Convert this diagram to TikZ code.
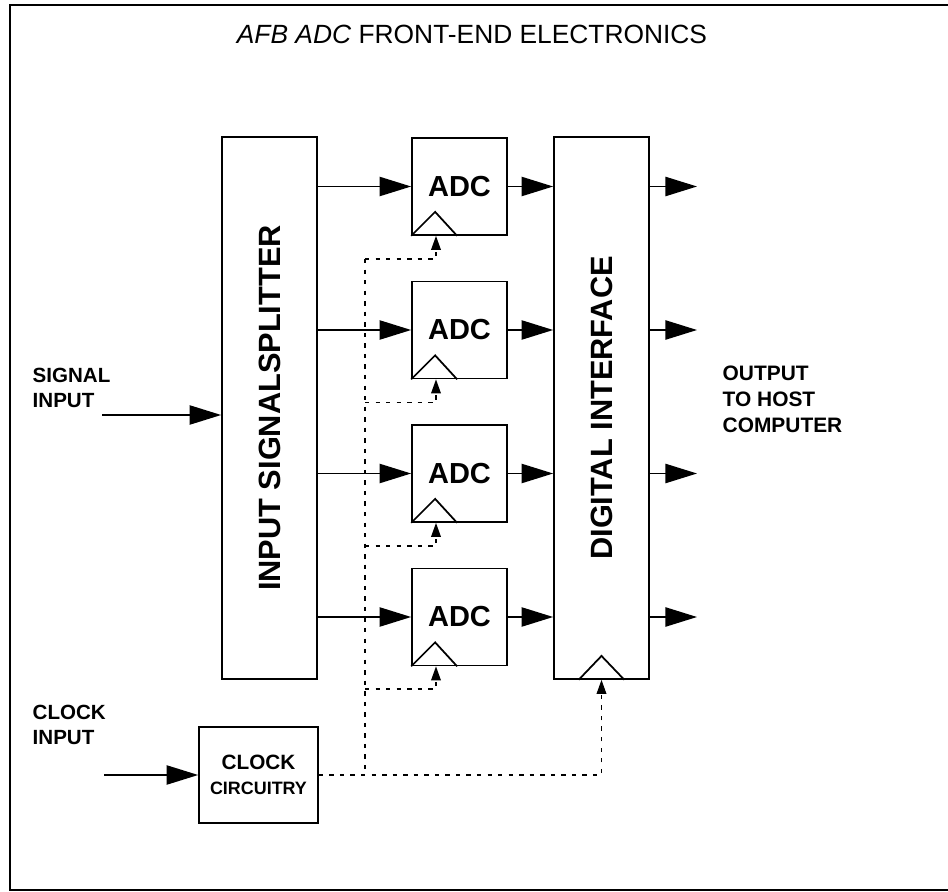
\documentclass[tikz,border=0pt]{standalone}
\usepackage{fontspec}
\setmainfont{Liberation Sans}
\usetikzlibrary{arrows.meta}

\begin{document}
\begin{tikzpicture}[x=0.02cm, y=-0.02cm,
        line width=0.8pt,
        bloco/.style={draw, line width=1pt, inner sep=0pt, minimum width=1.9cm},
        adc/.style={bloco, minimum height=1.94cm, font=\fontsize{16.5}{19}\selectfont\bfseries},
        alto/.style={bloco, minimum height=10.84cm},
        vertical/.style={rotate=90, inner sep=0pt, font=\fontsize{17.5}{21}\selectfont\bfseries},
        rotulo/.style={anchor=north west, inner sep=0pt, align=left, font=\fontsize{11.7}{14.3}\selectfont\bfseries},
        seta/.style={-{Triangle[length=18pt,width=11pt]}},
        relogio/.style={dash pattern=on 2.5pt off 3.5pt},
        setinha/.style={-{Triangle[length=8pt,width=5.5pt]}}]
        \useasboundingbox (0,0) rectangle (948,892);
        \draw[line width=1.5pt] (948,5) -| (10,890) -- (948,890);
        \node[font=\fontsize{15}{18}\selectfont] (titulo) at (472,34) {\textit{AFB ADC} FRONT-END ELECTRONICS};
        \node[alto] (spl) at (269.5,408) {};
        \node[vertical] (splt) at (spl) {INPUT SIGNALSPLITTER};
        \node[alto] (di) at (601.5,408) {};
        \node[vertical] (dit) at (di) {DIGITAL INTERFACE};
        \draw[line width=1pt] ([xshift=-13pt]di.south) -- ([yshift=13.6pt]di.south) -- ([xshift=13pt]di.south);
        \node[bloco, minimum width=2.38cm, minimum height=1.92cm, align=center, font=\fontsize{11.8}{14.2}\selectfont\bfseries] (clk) at (258.5,775) {CLOCK\\\fontsize{10.2}{14.2}\selectfont CIRCUITRY};
        \node[rotulo] (sinal) at (32,367) {SIGNAL\\INPUT};
        \node[rotulo] (relog) at (32,704) {CLOCK\\INPUT};
        \node[rotulo, font=\fontsize{11.9}{14.8}\selectfont\bfseries] (saida) at (722,365) {OUTPUT\\TO HOST\\COMPUTER};
        \coordinate (sigin) at (102,415);
        \coordinate (clkin) at (104,775);
        \coordinate (vtop) at (365,259);
        \draw[seta] (sigin) -- (sigin -| spl.west);
        \draw[seta] (clkin) -- (clk.west);
        \draw[relogio] (vtop) -- (vtop |- clk.east);
        \draw[relogio, setinha] (clk.east) -- (di.south |- clk.east) -- (di.south);
        \foreach \i/\y/\b in {1/186.5/259, 2/330/402.5, 3/473.5/546, 4/617/689}{
            \node[adc] (adc\i) at (459.5,\y) {ADC};
            \draw[line width=1pt] (adc\i.south west) -- ++(24,-24) coordinate (apex\i) -- ++(22,24);
            \coordinate (br\i) at (436,\b);
            \coordinate (out\i) at (697,\y);
            \draw[seta] (spl.east |- adc\i.west) -- (adc\i.west);
            \draw[seta] (adc\i.east) -- (adc\i.east -| di.west);
            \draw[seta] (adc\i.east -| di.east) -- (out\i);
            \draw[relogio, setinha] (vtop |- br\i) -- (br\i) -- (br\i |- adc\i.south);
        }
    \end{tikzpicture}
\end{document}
